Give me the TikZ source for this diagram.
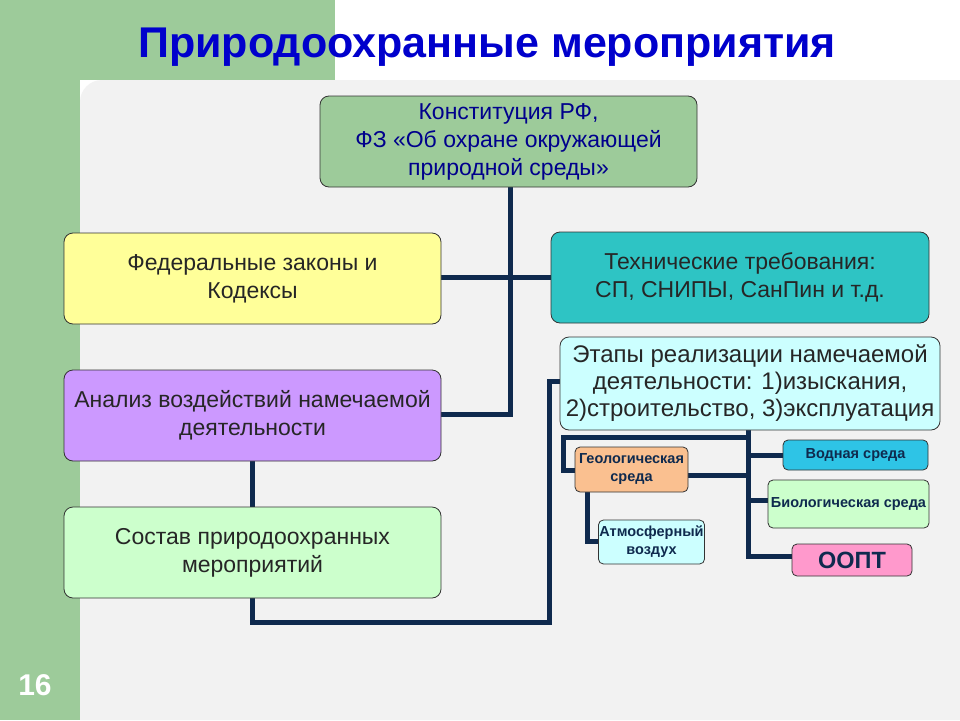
\documentclass[tikz,border=0pt]{standalone}
\usepackage{fontspec}
\setmainfont{Liberation Sans}
\begin{document}
\begin{tikzpicture}[x=1pt,y=-1pt,
 box/.style={draw=black!80,rounded corners=9pt,line width=0.8pt,align=center,inner sep=1pt,font=\fontsize{23}{28}\selectfont,text=black!85},
 sm/.style={box,rounded corners=5pt,font=\fontsize{14.5}{18}\selectfont\bfseries},
 ln/.style={draw=navy,line width=5pt}]
\definecolor{navy}{HTML}{0F2A4E}
\definecolor{grn}{HTML}{9DCB9A}
\useasboundingbox (0,0) rectangle (960,720);
\fill[white] (0,0) rectangle (960,720);
\fill[grn] (0,0) rectangle (335,80);
\fill[grn] (0,0) rectangle (80,720);
\fill[black!5,rounded corners=22pt] (80,720) -- (80,80) -- (960,80) -- (960,720);
\fill[black!5] (100,80) rectangle (960,720);
\node[font=\fontsize{43}{48}\selectfont\bfseries,text=blue!80!black] (title) at (487,47) {Природоохранные мероприятия};
\node[font=\fontsize{30}{34}\selectfont\bfseries,text=white] (num) at (35,685) {16};
% lines first
\coordinate (c1) at (510,187);
\coordinate (c2) at (510,414);
\draw[ln] (c1) -- (c2) -- (441,414);
\draw[ln] (441,277) -- (551,277);
\draw[ln] (252,461) -- (252,507);
\draw[ln] (252,598) -- (252,622) -- (549,622) -- (549,381) -- (560,381);
\draw[ln] (748,430) -- (748,556) -- (792,556);
\draw[ln] (748,455) -- (783,455);
\draw[ln] (748,500) -- (768,500);
\draw[ln] (748,437) -- (563,437) -- (563,470) -- (575,470);
\draw[ln] (688,475) -- (748,475);
\draw[ln] (587,492) -- (587,541) -- (599,541);
% boxes
\node[box,fill=grn,text=blue!55!black,minimum width=377pt,minimum height=91pt] (kon) at (508.5,141.5) {Конституция РФ,\\ФЗ «Об охране окружающей\\природной среды»};
\node[box,fill={rgb,255:red,255;green,255;blue,153},minimum width=377pt,minimum height=91pt] (fed) at (252.5,278.5) {Федеральные законы и\\Кодексы};
\node[box,fill={rgb,255:red,46;green,196;blue,196},minimum width=378pt,minimum height=91pt] (tech) at (740,277.5) {Технические требования:\\СП, СНИПЫ, СанПин и т.д.};
\node[box,fill={rgb,255:red,204;green,255;blue,255},minimum width=380pt,minimum height=93pt,font=\fontsize{24}{27}\selectfont] (etap) at (750,383.5) {Этапы реализации намечаемой\\деятельности: 1)изыскания,\\2)строительство, 3)эксплуатация};
\node[box,fill={rgb,255:red,204;green,153;blue,255},minimum width=377pt,minimum height=91pt] (an) at (252.5,415.5) {Анализ воздействий намечаемой\\деятельности};
\node[box,fill={rgb,255:red,204;green,255;blue,204},minimum width=377pt,minimum height=91pt] (sos) at (252.5,552.5) {Состав природоохранных\\мероприятий};
\node[sm,fill={rgb,255:red,250;green,192;blue,144},minimum width=113pt,minimum height=45pt,text=navy] (geo) at (631.5,469.5) {Геологическая\\среда};
\node[sm,fill={rgb,255:red,46;green,196;blue,230},minimum width=145pt,minimum height=30pt,text=navy] (vod) at (855.5,455) {Водная среда};
\node[sm,fill={rgb,255:red,204;green,255;blue,204},minimum width=161pt,minimum height=48pt,text=navy] (bio) at (848.5,504) {Биологическая среда};
\node[sm,fill={rgb,255:red,204;green,255;blue,255},minimum width=105pt,minimum height=44pt,text=navy] (atm) at (651.5,542) {Атмосферный\\воздух};
\node[sm,fill={rgb,255:red,255;green,153;blue,204},minimum width=120pt,minimum height=32pt,font=\fontsize{23.5}{26}\selectfont\bfseries,text=navy] (oopt) at (852,560) {ООПТ};
\end{tikzpicture}
\end{document}
